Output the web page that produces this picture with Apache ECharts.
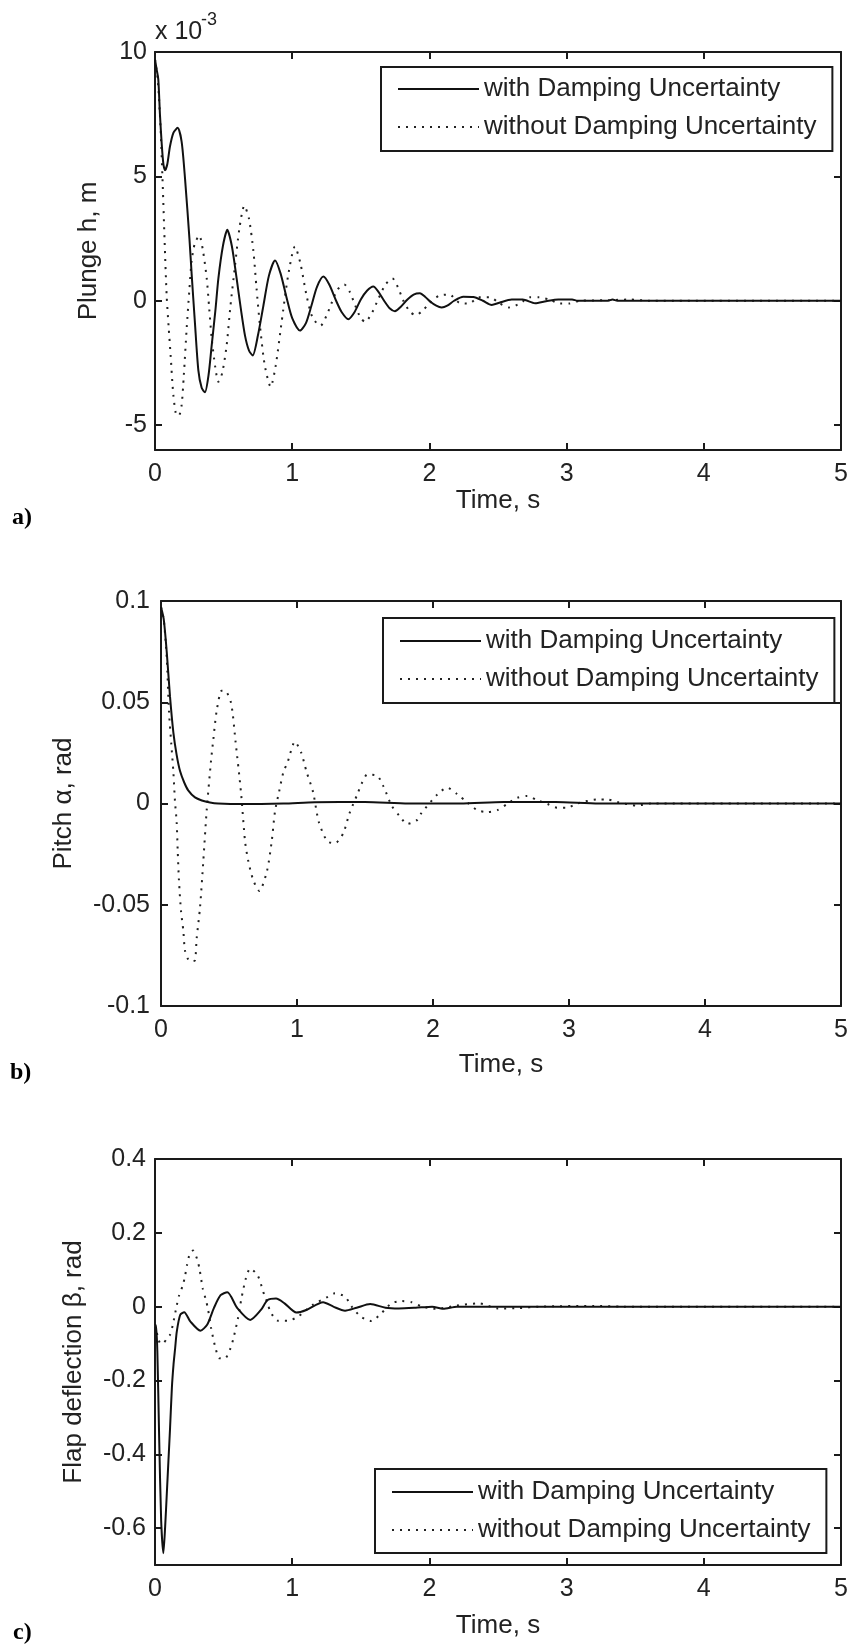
<!DOCTYPE html>
<html><head><meta charset="utf-8">
<script src="https://cdn.jsdelivr.net/npm/echarts@6/dist/echarts.min.js"></script>
<style>html,body{margin:0;padding:0;background:#fff}#c{width:852px;height:1649px}</style>
</head><body><div id="c"></div>
<script>
const FONT = '"Liberation Sans", Arial, Helvetica, sans-serif';
const NAME_WITH = 'with Damping Uncertainty';
const NAME_WITHOUT = 'without Damping Uncertainty';

// ---- Panel a: plunge h (values in units of 1e-3 m) ----
const tA_with = [0,0.012,0.024,0.036,0.049,0.061,0.073,0.09,0.109,0.134,0.165,0.194,0.219,0.251,0.268,0.29,0.316,0.34,0.364,0.39,0.413,0.44,0.462,0.495,0.527,0.56,0.595,0.625,0.656,0.685,0.712,0.75,0.79,0.83,0.875,0.915,0.96,1.0,1.057,1.10,1.14,1.18,1.227,1.27,1.32,1.36,1.409,1.455,1.50,1.545,1.591,1.63,1.67,1.71,1.749,1.79,1.84,1.885,1.931,1.97,2.01,2.05,2.089,2.13,2.18,2.247,2.32,2.39,2.454,2.51,2.6,2.68,2.77,2.85,2.94,3.04,3.08,3.3,3.335,3.37,5];
const hA_with = [9.7,9.3,8.9,7.5,6.3,5.5,5.25,5.5,6.2,6.75,6.95,6.4,4.9,2.5,1.0,-0.8,-2.8,-3.5,-3.68,-3.0,-1.8,-0.4,0.9,2.2,2.85,2.2,0.9,-0.3,-1.4,-2.0,-2.2,-1.4,-0.2,1.0,1.62,1.1,0.1,-0.7,-1.2,-0.9,-0.2,0.55,0.97,0.65,0.0,-0.45,-0.74,-0.45,0.05,0.4,0.57,0.35,0.0,-0.3,-0.42,-0.25,0.05,0.25,0.30,0.15,-0.05,-0.2,-0.27,-0.2,0.0,0.16,0.15,0.0,-0.17,-0.08,0.05,0.05,-0.1,-0.02,0.05,0.05,0,0,0.05,0,0];
const tA_without = [0,0.02,0.04,0.056,0.07,0.085,0.1,0.114,0.134,0.158,0.175,0.194,0.21,0.231,0.25,0.267,0.29,0.323,0.35,0.377,0.395,0.413,0.44,0.462,0.49,0.522,0.55,0.583,0.615,0.651,0.685,0.717,0.74,0.765,0.80,0.843,0.88,0.923,0.97,1.02,1.06,1.105,1.15,1.207,1.25,1.29,1.33,1.38,1.42,1.46,1.50,1.531,1.58,1.63,1.68,1.73,1.77,1.81,1.86,1.90,1.95,2.0,2.07,2.145,2.218,2.29,2.36,2.44,2.51,2.58,2.66,2.73,2.8,2.88,2.95,3.02,3.1,3.3,3.46,3.6,5];
const hA_without = [9.7,8.9,7.0,4.7,2.4,0.2,-1.1,-2.2,-3.8,-4.6,-4.6,-4.2,-3.0,-1.1,0.4,1.6,2.3,2.62,2.0,0.9,-0.3,-1.5,-2.7,-3.26,-2.9,-1.8,-0.2,1.4,2.9,3.82,3.3,2.0,0.5,-1.0,-2.6,-3.46,-2.6,-0.85,1.0,2.18,1.5,0.2,-0.7,-1.0,-0.6,-0.05,0.45,0.65,0.35,-0.2,-0.7,-0.85,-0.5,0.1,0.65,0.9,0.55,0.0,-0.45,-0.58,-0.4,-0.1,0.2,0.25,-0.08,-0.11,0.14,0.14,-0.1,-0.27,-0.11,0.14,0.14,0.03,-0.11,-0.11,0,0.02,0.05,0,0];
const yTicksA = [-5,0,5,10];

// ---- Panel b: pitch alpha (rad) ----
const tB_with = [0,0.02,0.042,0.066,0.091,0.115,0.14,0.17,0.2,0.25,0.3,0.36,0.42,0.6,0.9,1.13,1.5,1.82,2.2,2.52,2.9,3.22,5];
const aB_with = [0.097,0.091,0.075,0.053,0.035,0.024,0.016,0.0105,0.0065,0.003,0.0015,0.0005,0,-0.0003,0,0.0006,0.0008,0,0,0.0007,0.0007,0,0];
const tB_without = [0,0.02,0.042,0.059,0.075,0.091,0.103,0.115,0.123,0.132,0.147,0.164,0.176,0.2,0.225,0.25,0.262,0.287,0.311,0.336,0.368,0.385,0.409,0.446,0.47,0.515,0.549,0.588,0.618,0.642,0.679,0.723,0.779,0.814,0.838,0.868,0.9,0.931,0.985,1.03,1.071,1.118,1.16,1.223,1.28,1.34,1.385,1.444,1.475,1.517,1.59,1.635,1.696,1.752,1.811,1.885,1.912,2.034,2.105,2.179,2.252,2.326,2.4,2.473,2.55,2.62,2.693,2.767,2.84,2.914,2.987,3.061,3.208,3.282,3.355,3.502,3.6,5];
const aB_without = [0.097,0.091,0.072,0.045,0.03,0.0155,0.0008,-0.009,-0.0236,-0.038,-0.053,-0.0627,-0.0725,-0.077,-0.078,-0.0774,-0.0668,-0.0513,-0.0285,-0.0033,0.0212,0.0318,0.0456,0.0557,0.0557,0.0497,0.03,0.0057,-0.0187,-0.0285,-0.038,-0.0432,-0.0334,-0.0187,-0.004,0.0057,0.0155,0.0204,0.0305,0.0253,0.0155,0.0057,-0.009,-0.0187,-0.0196,-0.0147,-0.005,0.0046,0.0098,0.0143,0.0137,0.0086,-0.0011,-0.006,-0.0101,-0.0081,-0.005,0.0046,0.0078,0.0046,0.0005,-0.0033,-0.0042,-0.0033,0.0,0.0028,0.0037,0.0016,-0.0002,-0.0021,-0.0021,0.0,0.002,0.002,0.0007,-0.001,0,0];
const yTicksB = [-0.1,-0.05,0,0.05,0.1];

// ---- Panel c: flap deflection beta (rad) ----
const tC_with = [0,0.007,0.017,0.03,0.045,0.061,0.074,0.086,0.098,0.11,0.123,0.135,0.147,0.159,0.184,0.213,0.257,0.331,0.38,0.429,0.478,0.527,0.6,0.694,0.772,0.821,0.882,0.944,1.03,1.103,1.225,1.3,1.385,1.47,1.569,1.68,1.777,1.9,2.02,2.1,2.2,5];
const bC_with = [-0.05,-0.05,-0.12,-0.35,-0.58,-0.668,-0.596,-0.507,-0.417,-0.327,-0.22,-0.157,-0.112,-0.067,-0.022,-0.015,-0.04,-0.065,-0.049,-0.004,0.031,0.039,-0.004,-0.036,-0.009,0.018,0.022,0.009,-0.016,-0.009,0.012,0,-0.011,-0.003,0.007,-0.003,-0.005,-0.003,0,-0.006,0,0];
const tC_without = [0,0.02,0.04,0.061,0.09,0.11,0.13,0.159,0.176,0.203,0.22,0.233,0.252,0.277,0.306,0.324,0.348,0.368,0.385,0.409,0.441,0.47,0.51,0.551,0.571,0.605,0.63,0.662,0.694,0.748,0.797,0.821,0.84,0.895,0.968,1.042,1.15,1.262,1.311,1.385,1.434,1.5,1.576,1.65,1.723,1.797,1.87,1.95,2.05,2.2,2.36,2.5,2.65,2.8,3.2,3.4,5];
const bC_without = [-0.05,-0.08,-0.1,-0.099,-0.085,-0.076,-0.049,0.004,0.031,0.058,0.085,0.112,0.141,0.152,0.13,0.103,0.049,0.022,-0.004,-0.058,-0.112,-0.14,-0.14,-0.112,-0.087,-0.031,0.022,0.076,0.103,0.085,0.031,0.009,-0.013,-0.038,-0.038,-0.027,0.005,0.027,0.036,0.027,0,-0.027,-0.039,-0.018,0.009,0.015,0.012,0,-0.006,0.003,0.009,-0.005,-0.004,0,0.002,0,0];
const yTicksC = [-0.6,-0.4,-0.2,0,0.2,0.4];

const xTicks = [0,1,2,3,4,5];

function pairs(t, v) { return t.map((x, i) => [x, v[i]]); }

const AX = '#1a1a1a';
const TXT = '#222';

const panels = [
  { grid: {left:155, top:52, width:686, height:398}, ymin:-6, ymax:10, yTicks:yTicksA,
    yName:'Plunge h, m', yGap:53, yMargin:8, xGap:34,
    sW: pairs(tA_with, hA_with), sWo: pairs(tA_without, hA_without),
    legend: {left:381, top:67, padding:[7,16,9,16]} },
  { grid: {left:161, top:601, width:680, height:405}, ymin:-0.1, ymax:0.1, yTicks:yTicksB,
    yName:'Pitch \u03b1, rad', yGap:84, yMargin:11, xGap:46,
    sW: pairs(tB_with, aB_with), sWo: pairs(tB_without, aB_without),
    legend: {left:383, top:618, padding:[8,16,9,16]} },
  { grid: {left:155, top:1159, width:686, height:406}, ymin:-0.7, ymax:0.4, yTicks:yTicksC,
    yName:'Flap deflection \u03b2, rad', yGap:68, yMargin:9, xGap:48,
    sW: pairs(tC_with, bC_with), sWo: pairs(tC_without, bC_without),
    legend: {left:375, top:1469, padding:[8,16,8,16]} }
];

const grid = [], xAxis = [], yAxis = [], series = [], legend = [];
panels.forEach((p, i) => {
  grid.push(Object.assign({show:false, outerBoundsMode:'none', containLabel:false}, p.grid));
  const tick = {show:true, inside:true, length:7, lineStyle:{color:AX, width:2}};
  const line = {show:true, onZero:false, lineStyle:{color:AX, width:2}};
  xAxis.push({type:'value', gridIndex:i, position:'bottom', min:0, max:5,
    axisLine:line, axisTick:Object.assign({customValues:xTicks}, tick),
    axisLabel:{customValues:xTicks, fontSize:25, color:TXT, fontFamily:FONT, margin:12},
    splitLine:{show:false},
    name:'Time, s', nameLocation:'middle', nameGap:p.xGap,
    nameTextStyle:{fontSize:26, color:TXT, fontFamily:FONT}});
  xAxis.push({type:'value', gridIndex:i, position:'top', min:0, max:5,
    axisLine:line, axisTick:Object.assign({customValues:xTicks}, tick),
    axisLabel:{show:false}, splitLine:{show:false}});
  yAxis.push({type:'value', gridIndex:i, position:'left', min:p.ymin, max:p.ymax,
    axisLine:line, axisTick:Object.assign({customValues:p.yTicks}, tick),
    axisLabel:{customValues:p.yTicks, fontSize:25, color:TXT, fontFamily:FONT, margin:p.yMargin},
    splitLine:{show:false},
    name:p.yName, nameLocation:'middle', nameGap:p.yGap,
    nameTextStyle:{fontSize:26, color:TXT, fontFamily:FONT}});
  yAxis.push({type:'value', gridIndex:i, position:'right', min:p.ymin, max:p.ymax,
    axisLine:line, axisTick:Object.assign({customValues:p.yTicks}, tick),
    axisLabel:{show:false}, splitLine:{show:false}});
  series.push({type:'line', name:NAME_WITH, xAxisIndex:2*i, yAxisIndex:2*i, data:p.sW,
    symbol:'none', showSymbol:false, smooth:0.25, z:3,
    lineStyle:{color:'#111', width:2, type:'solid'}, itemStyle:{color:'#111'}});
  series.push({type:'line', name:NAME_WITHOUT, xAxisIndex:2*i, yAxisIndex:2*i, data:p.sWo,
    symbol:'none', showSymbol:false, smooth:0.25, z:2,
    lineStyle:{color:'#222', width:2, type:[2,6]}, itemStyle:{color:'#222'}});
  legend.push(Object.assign({orient:'vertical', data:[NAME_WITH, NAME_WITHOUT],
    itemWidth:81, itemHeight:14, itemGap:8, borderColor:AX, borderWidth:2, borderRadius:0,
    backgroundColor:'#fff', selectedMode:false,
    itemStyle:{opacity:0, color:'rgba(0,0,0,0)', borderWidth:0},
    textStyle:{fontSize:26, lineHeight:30, fontFamily:FONT, color:TXT}}, p.legend));
});

const chart = echarts.init(document.getElementById('c'), null, {renderer:'canvas'});
chart.setOption({
  animation:false,
  backgroundColor:'#fff',
  grid, xAxis, yAxis, series, legend,
  graphic:[
    {type:'text', x:155, y:32, style:{text:'x 10', font:'25px ' + FONT, fill:TXT, verticalAlign:'middle'}},
    {type:'text', x:201, y:20, style:{text:'-3', font:'18px ' + FONT, fill:TXT, verticalAlign:'middle'}},
    {type:'text', x:12, y:518, style:{text:'a)', font:'bold 24px "Liberation Serif", "Times New Roman", serif', fill:'#000', verticalAlign:'middle'}},
    {type:'text', x:10, y:1073, style:{text:'b)', font:'bold 24px "Liberation Serif", "Times New Roman", serif', fill:'#000', verticalAlign:'middle'}},
    {type:'text', x:13, y:1633, style:{text:'c)', font:'bold 24px "Liberation Serif", "Times New Roman", serif', fill:'#000', verticalAlign:'middle'}}
  ]
});
</script>
</body></html>
